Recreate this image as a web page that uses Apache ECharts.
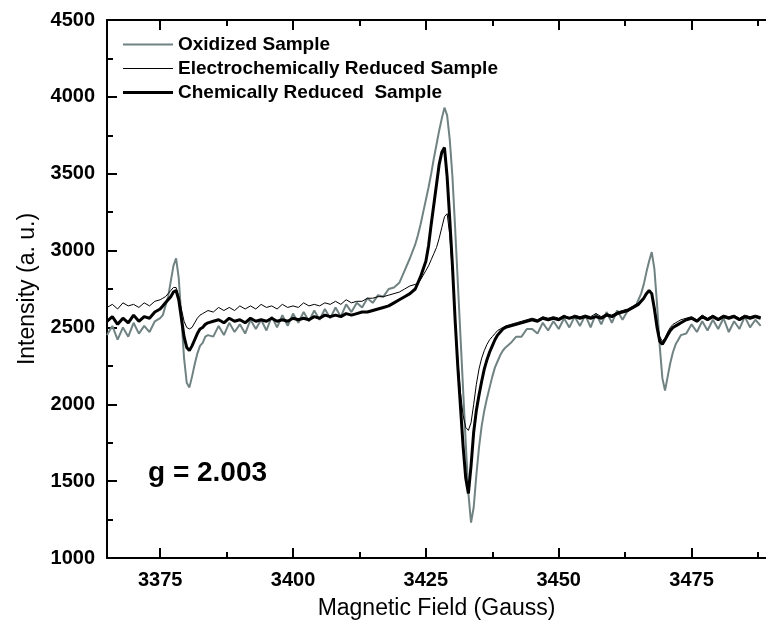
<!DOCTYPE html>
<html><head><meta charset="utf-8">
<script src="https://cdn.jsdelivr.net/npm/echarts@6/dist/echarts.min.js"></script>
<style>html,body{margin:0;padding:0;background:#fff}#c{width:766px;height:626px}</style>
</head><body><div id="c"></div>
<script>
const seriesNames = ['Oxidized Sample', 'Electrochemically Reduced Sample', 'Chemically Reduced  Sample'];
const fields = [
  3365,3366,3367,3368,3369,3370,3371,3372,3373,3374,3375,
  3375.5,3376,3376.5,3377,3377.5,3378,3378.5,3379,3379.5,3380,3380.5,3381,3381.5,3382,3382.5,3383,3383.5,3384,
  3385,3386,3387,3388,3389,3390,3391,3392,3393,3394,3395,3396,3397,3398,3399,3400,3401,3402,3403,3404,
  3405,3406,3407,3408,3409,3410,3411,3412,3413,3414,3415,3416,3417,3418,3419,3420,3421,3422,3423,
  3423.5,3424,3424.5,3425,3425.5,3426,3426.5,3427,3427.5,3428,3428.5,3429,3429.5,3430,3430.5,3431,3431.5,3432,3432.5,3433,
  3433.5,3434,3434.5,3435,3435.5,3436,3436.5,3437,3437.5,3438,3438.5,3439,3439.5,3440,
  3441,3442,3443,3444,3445,3446,3447,3448,3449,3450,3451,3452,3453,3454,3455,3456,3457,3458,3459,3460,3461,3462,3463,3464,
  3464.5,3465,3465.5,3466,3466.5,3467,3467.5,3468,3468.5,3469,3469.5,3470,3470.5,3471,3471.5,3472,3472.5,3473,
  3474,3475,3476,3477,3478,3479,3480,3481,3482,3483,3484,3485,3486,3487,3488
];
const oxidized = [
  2450,2510,2420,2500,2440,2530,2460,2510,2470,2540,2560,
  2580,2640,2700,2800,2900,2950,2820,2560,2300,2140,2110,2180,2260,2330,2380,2400,2440,2450,
  2440,2510,2450,2530,2470,2520,2460,2550,2490,2550,
  2480,2570,2500,2580,2510,2590,2530,2600,2540,2610,
  2550,2620,2560,2630,2570,2650,2600,2660,2630,2690,
  2660,2710,2700,2750,2760,2790,2870,2950,3040,
  3100,3170,3250,3330,3410,3500,3600,3690,3780,3860,
  3930,3880,3720,3480,3150,2800,2450,2100,1750,1420,
  1230,1330,1540,1720,1860,1960,2040,2110,2180,2240,
  2280,2320,2350,2370,
  2400,2440,2440,2490,2490,2460,2530,2480,2540,2490,2560,2500,2570,2510,2580,2500,2590,2520,2600,2530,2610,2550,2610,2630,
  2640,2680,2720,2780,2860,2930,2990,2880,2650,2380,2170,2090,2180,2270,2340,2390,2420,2450,
  2460,2520,2470,2540,2480,2550,2490,2560,2470,2540,2490,2570,2500,2550,2510
];
const electro = [
  2630,2650,2620,2660,2640,2650,2630,2660,2640,2670,2680,
  2690,2700,2720,2740,2760,2760,2700,2620,2540,2500,2490,2500,2530,2560,2580,2590,2600,2610,
  2600,2630,2610,2630,2610,2640,2620,2640,2620,2650,
  2630,2640,2620,2650,2630,2640,2630,2660,2640,2650,
  2640,2660,2650,2670,2650,2680,2660,2670,2670,2690,
  2690,2700,2700,2710,2720,2730,2750,2770,2780,
  2790,2810,2840,2870,2900,2940,2980,3020,3080,3150,
  3220,3240,3100,2860,2560,2290,2080,1930,1850,1830,
  1880,2000,2130,2230,2300,2350,2390,2420,2440,2460,
  2480,2490,2500,2510,
  2520,2530,2540,2550,2560,2550,2570,2560,2570,2560,2580,2560,2580,2570,2580,2570,2590,2570,2590,2580,2600,2610,2620,2640,
  2650,2660,2670,2690,2710,2730,2720,2640,2530,2440,2410,2430,2470,2500,2520,2530,2540,2550,
  2560,2570,2550,2580,2560,2580,2560,2580,2570,2580,2560,2580,2570,2580,2570
];
const chemical = [
  2540,2570,2520,2560,2530,2580,2540,2570,2560,2600,2620,
  2640,2660,2680,2700,2730,2740,2680,2560,2440,2370,2350,2380,2420,2460,2490,2500,2520,2530,
  2540,2550,2530,2560,2540,2550,2530,2560,2540,2550,
  2540,2560,2540,2550,2540,2560,2550,2560,2550,2570,
  2560,2580,2570,2580,2570,2590,2580,2590,2600,2600,
  2610,2620,2630,2640,2660,2680,2700,2720,2750,
  2790,2830,2880,2930,3030,3170,3300,3430,3560,3640,
  3670,3480,3200,2900,2550,2250,1990,1730,1520,1420,
  1600,1820,1960,2060,2150,2230,2290,2340,2380,2420,
  2450,2470,2490,2500,
  2510,2520,2530,2540,2550,2540,2560,2550,2560,2550,2570,2560,2570,2560,2570,2560,2570,2560,2580,2570,2590,2600,2610,2630,
  2640,2650,2670,2690,2720,2740,2720,2620,2500,2410,2390,2420,2450,2480,2500,2510,2520,2530,
  2550,2560,2540,2570,2550,2570,2550,2570,2560,2570,2550,2570,2560,2570,2560
];
const xMajorTicks = [3375, 3400, 3425, 3450, 3475];
const xMinorTicks = [3387.5, 3412.5, 3437.5, 3462.5, 3487.5];
const annotation = 'g = 2.003';

const colors = ['#708282', '#000000', '#000000'];
const widths = [2, 1, 3];
const legendTops = [30, 54, 78];

const pair = arr => fields.map((f, i) => [f, arr[i]]);
const grid = {left: 107, top: 20, right: -7, bottom: 68};
const lblFont = {color: '#000', fontFamily: 'Liberation Sans', fontWeight: 'bold', fontSize: 20, formatter: v => String(v)};
const tickStyle = {color: '#000', width: 2};
const chart = echarts.init(document.getElementById('c'), null, {renderer: 'canvas'});
chart.setOption({
  animation: false,
  backgroundColor: '#fff',
  grid: [Object.assign({}, grid), Object.assign({}, grid)],
  legend: seriesNames.map((n, i) => ({
    orient: 'vertical', left: 118, top: legendTops[i], icon: 'rect',
    itemWidth: 50, itemHeight: widths[i],
    textStyle: {color: '#000', fontFamily: 'Liberation Sans', fontWeight: 'bold', fontSize: 19},
    data: [n]
  })),
  xAxis: [
    {gridIndex: 0, type: 'value', position: 'bottom', min: 3365, max: 3489,
     name: 'Magnetic Field (Gauss)', nameLocation: 'middle', nameGap: 39,
     nameTextStyle: {color: '#000', fontFamily: 'Liberation Sans', fontSize: 23},
     axisLine: {show: true, lineStyle: {color: '#000', width: 2}},
     axisTick: {show: true, inside: false, length: -10, lineStyle: tickStyle, customValues: xMajorTicks},
     axisLabel: Object.assign({show: true, margin: 12, customValues: xMajorTicks}, lblFont),
     splitLine: {show: false}},
    {gridIndex: 0, type: 'value', position: 'top', min: 3365, max: 3489,
     axisLine: {show: true, lineStyle: {color: '#000', width: 2}},
     axisTick: {show: true, inside: false, length: -10, lineStyle: tickStyle, customValues: xMajorTicks},
     axisLabel: {show: false}, splitLine: {show: false}},
    {gridIndex: 1, type: 'value', position: 'bottom', min: 3365, max: 3489,
     axisLine: {show: false},
     axisTick: {show: true, inside: false, length: -6, lineStyle: tickStyle, customValues: xMinorTicks},
     axisLabel: {show: false}, splitLine: {show: false}},
    {gridIndex: 1, type: 'value', position: 'top', min: 3365, max: 3489,
     axisLine: {show: false},
     axisTick: {show: true, inside: false, length: -6, lineStyle: tickStyle, customValues: xMinorTicks},
     axisLabel: {show: false}, splitLine: {show: false}}
  ],
  yAxis: [
    {gridIndex: 0, type: 'value', min: 1000, max: 4500, interval: 500,
     name: 'Intensity (a. u.)', nameLocation: 'middle', nameGap: 62, nameRotate: 90,
     nameTextStyle: {color: '#000', fontFamily: 'Liberation Sans', fontSize: 23},
     axisLine: {show: true, lineStyle: {color: '#000', width: 2}},
     axisTick: {show: true, inside: false, length: -10, lineStyle: tickStyle},
     minorTick: {show: true, splitNumber: 2, length: -6, lineStyle: tickStyle},
     axisLabel: Object.assign({margin: 12}, lblFont),
     splitLine: {show: false}, minorSplitLine: {show: false}},
    {gridIndex: 1, type: 'value', min: 1000, max: 4500, show: false}
  ],
  graphic: [{
    type: 'text', left: 148, top: 459,
    style: {text: annotation, fill: '#000', font: 'bold 28px "Liberation Sans"'}
  }],
  series: seriesNames.map((n, i) => ({
    name: n, type: 'line', xAxisIndex: 0, yAxisIndex: 0,
    data: pair([oxidized, electro, chemical][i]),
    showSymbol: false, symbol: 'none', color: colors[i],
    lineStyle: {width: widths[i], color: colors[i]}, z: 2 + i
  }))
});
</script></body></html>
